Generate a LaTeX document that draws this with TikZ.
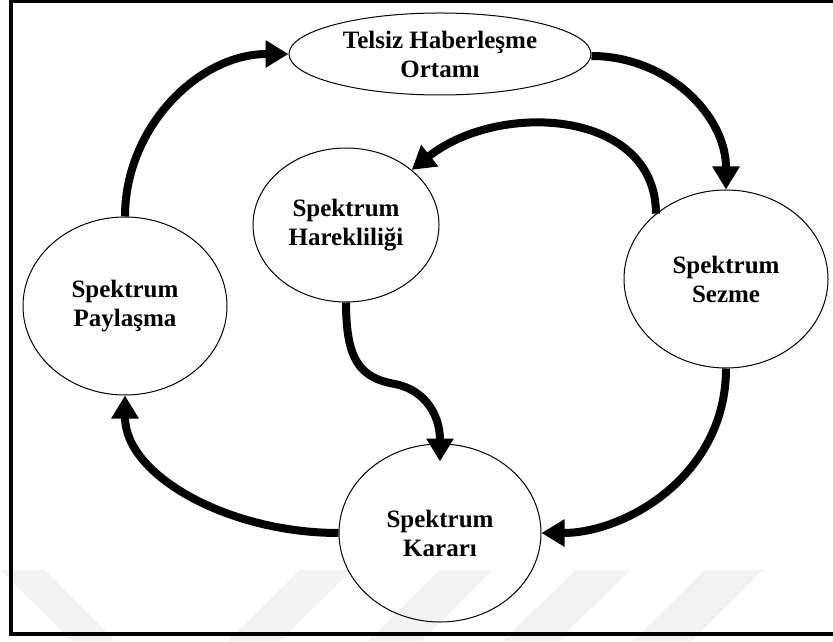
\documentclass[tikz,border=0pt]{standalone}
\usepackage{fontspec}
\setmainfont{Liberation Serif}
\usetikzlibrary{arrows.meta,shapes.geometric,calc}
\begin{document}
\begin{tikzpicture}[x=0.5pt,y=-0.5pt,
  blob/.style={ellipse,draw,line width=0.5pt,inner sep=0pt,align=center,
    font=\fontsize{12.5}{14.5}\selectfont\bfseries},
  flow/.style={line width=4pt,-{Triangle[length=11.5pt,width=13pt]}},
  wm/.style={fill=black!5,draw=none}]
\useasboundingbox (0,0) rectangle (833,641);
\clip (0,0) rectangle (833,641);
\fill[white] (0,0) rectangle (833,641);
% watermark
\fill[wm] (0,570) -- (45,570) -- (115,641) -- (72,641) -- cycle;
\fill[wm] (300,570) -- (352,570) -- (280,641) -- (228,641) -- cycle;
\fill[wm] (440,570) -- (493,570) -- (421,641) -- (368,641) -- cycle;
\fill[wm] (575,570) -- (630,570) -- (558,641) -- (503,641) -- cycle;
\fill[wm] (705,570) -- (763,570) -- (691,641) -- (633,641) -- cycle;
% frame
\draw[line width=2pt] (11,1) rectangle (900,634);
% nodes
\node[blob,minimum width=151pt,minimum height=41pt] (T) at (440,54) {Telsiz Haberleşme\\Ortamı};
\node[blob,minimum width=93pt,minimum height=77pt] (H) at (346,225) {Spektrum\\Harekliliği};
\node[blob,minimum width=102pt,minimum height=89pt] (S) at (726,279) {Spektrum\\Sezme};
\node[blob,minimum width=102pt,minimum height=89pt] (P) at (125,306) {Spektrum\\Paylaşma};
\node[blob,minimum width=101pt,minimum height=89pt] (K) at (440,533) {Spektrum\\Kararı};
% connectors
\draw[flow] (P.north) .. controls +(0,-89) and +(-90,0) .. (T.west);
\draw[flow] ($(T.east)+(0,2)$) .. controls +(75,0) and +(0,-75) .. (S.north);
\draw[flow] (S.137) .. controls (656,110) and (500,100) .. (H.40);
\draw[flow] (H.south) .. controls (346,360) and (360,378) .. (395,384)
  .. controls (425,390) and (440,415) .. ($(K.north)+(0,18)$);
\draw[flow] (S.south) .. controls +(0,107) and +(84,0) .. (K.east);
\draw[flow] (K.west) .. controls +(-110,0) and +(0,80) .. (P.south);
\end{tikzpicture}
\end{document}
